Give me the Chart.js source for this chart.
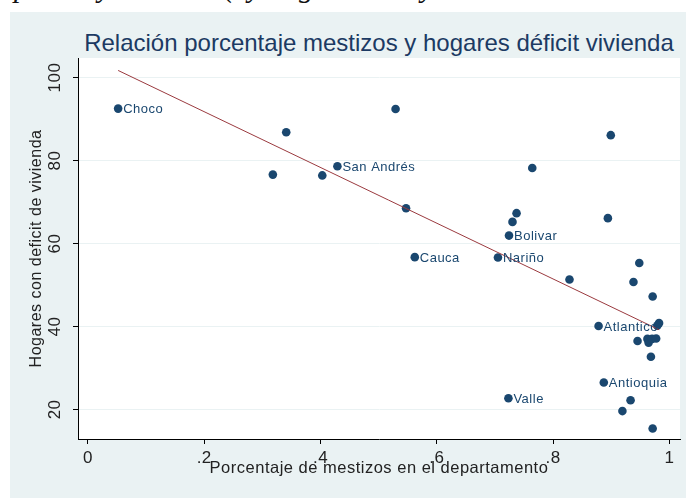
<!DOCTYPE html>
<html>
<head>
<meta charset="utf-8">
<script src="https://cdn.jsdelivr.net/npm/chart.js@4"></script>
<style>
html,body{margin:0;padding:0;background:#fff;}
#wrap{position:relative;width:686px;height:499px;overflow:hidden;}
#bg{position:absolute;left:10px;top:12px;width:676px;height:486px;background:#eaf2f3;}
#cut{position:absolute;left:0;top:0;width:686px;height:12px;overflow:hidden;font:italic 30px "Liberation Serif",serif;color:#111;}
#cut span{position:absolute;top:-28px;line-height:30px;}
#title{position:absolute;left:78px;width:602px;top:29px;text-align:center;font:24px "Liberation Sans",Arial,sans-serif;color:#1c3a63;line-height:28px;white-space:nowrap;}
canvas{position:absolute;left:0;top:0;}
</style>
</head>
<body>
<div id="wrap">
  <div id="cut"><span style="left:14px">p</span><span style="left:98px">y</span><span style="left:224px">(</span><span style="left:248px">y</span><span style="left:299px">g</span><span style="left:421px">y</span></div>
  <div id="bg"></div>
  <div id="title">Relación porcentaje mestizos y hogares déficit vivienda</div>
  <canvas id="c" width="686" height="499"></canvas>
</div>
<script>
// porcentaje de mestizos por departamento (x) y % hogares con deficit (y)
const depX = [0.052, 0.341, 0.318, 0.403, 0.429, 0.529, 0.547, 0.562, 0.705, 0.724, 0.730,
              0.737, 0.764, 0.899, 0.894, 0.828, 0.948, 0.938, 0.971, 0.982, 0.979, 0.878,
              0.945, 0.962, 0.964, 0.970, 0.977, 0.968, 0.887, 0.933, 0.919, 0.723, 0.971];
const depY = [92.5, 86.8, 76.6, 76.4, 78.6, 92.4, 68.5, 56.7, 56.6, 61.9, 65.2,
              67.3, 78.2, 86.1, 66.1, 51.3, 55.3, 50.7, 47.2, 40.8, 40.2, 40.1,
              36.5, 37.0, 36.1, 37.0, 37.1, 32.7, 26.5, 22.2, 19.6, 22.7, 15.4];
const depLabel = ['Choco', '', '', '', 'San Andrés', '', '', 'Cauca', 'Nariño', 'Bolivar', '',
                  '', '', '', '', '', '', '', '', '', '', 'Atlantico',
                  '', '', '', '', '', '', 'Antioquia', '', '', 'Valle', ''];
// recta ajustada (extremos)
const fitX = [0.052, 0.982];
const fitY = [101.7, 39.2];
const xTicks = [0, 0.2, 0.4, 0.6, 0.8, 1];
const xTickLabels = ['0', '.2', '.4', '.6', '.8', '1'];
const yTicks = [20, 40, 60, 80, 100];
const yTickLabels = ['20', '40', '60', '80', '100'];

const FONT = '"Liberation Sans", Arial, sans-serif';
const NAVY = '#1a476f';

const plotBg = {
  id: 'plotBg',
  beforeUpdate(chart){ chart.ctx.letterSpacing = '0.5px'; },
  beforeDraw(chart){
    const {ctx, chartArea:a} = chart;
    ctx.letterSpacing = '0.5px';
    ctx.save();
    ctx.fillStyle = '#fff';
    ctx.fillRect(a.left, a.top, a.right - a.left, a.bottom - a.top);
    ctx.restore();
  }
};

const pointLabels = {
  id: 'pointLabels',
  afterDatasetsDraw(chart){
    const ctx = chart.ctx;
    const meta = chart.getDatasetMeta(1);
    ctx.save();
    ctx.font = '13px ' + FONT;
    ctx.fillStyle = NAVY;
    ctx.textBaseline = 'middle';
    meta.data.forEach((pt, i) => {
      if(depLabel[i]) ctx.fillText(depLabel[i], pt.x + 5, pt.y + 1);
    });
    ctx.restore();
  }
};

new Chart(document.getElementById('c'), {
  type: 'scatter',
  data: {
    datasets: [
      {
        label: 'Fitted values',
        data: fitX.map((x, i) => ({x, y: fitY[i]})),
        showLine: true,
        borderColor: '#9b3a3f',
        borderWidth: 1,
        pointRadius: 0
      },
      {
        label: 'Hogares con deficit de vivienda',
        data: depX.map((x, i) => ({x, y: depY[i]})),
        pointRadius: 4.3,
        pointBackgroundColor: NAVY,
        pointBorderWidth: 0
      }
    ]
  },
  options: {
    responsive: false,
    animation: false,
    layout: {padding: {top: 58, right: 6, left: 0, bottom: 0}},
    plugins: {legend: {display: false}, tooltip: {enabled: false}},
    scales: {
      x: {
        type: 'linear',
        min: -0.017, max: 1.018,
        afterBuildTicks: s => { s.ticks = xTicks.map(v => ({value: v})); },
        afterFit: s => { s.height = 60; },
        ticks: {
          callback: v => xTickLabels[xTicks.indexOf(v)],
          font: {family: FONT, size: 17}, color: '#222',
          padding: 4, maxRotation: 0, autoSkip: false
        },
        grid: {drawOnChartArea: false, tickLength: 5, tickColor: '#000'},
        border: {color: '#000', width: 1},
        title: {
          display: true, text: 'Porcentaje de mestizos en el departamento',
          font: {family: FONT, size: 16.5}, color: '#222',
          padding: {top: 0, bottom: 21}
        }
      },
      y: {
        min: 12.87, max: 104.7,
        afterBuildTicks: s => { s.ticks = yTicks.map(v => ({value: v})); },
        afterFit: s => { s.width = 78; },
        ticks: {
          callback: v => yTickLabels[yTicks.indexOf(v)],
          font: {family: FONT, size: 17}, color: '#222',
          minRotation: 90, maxRotation: 90, crossAlign: 'center',
          padding: 3, autoSkip: false
        },
        grid: {color: '#eaf2f3', lineWidth: 1, tickLength: 5, tickColor: '#000'},
        border: {color: '#000', width: 1},
        title: {
          display: true, text: 'Hogares con deficit de vivienda',
          font: {family: FONT, size: 16}, color: '#222',
          padding: {top: 27, bottom: 0}
        }
      }
    }
  },
  plugins: [plotBg, pointLabels]
});
</script>
</body>
</html>
